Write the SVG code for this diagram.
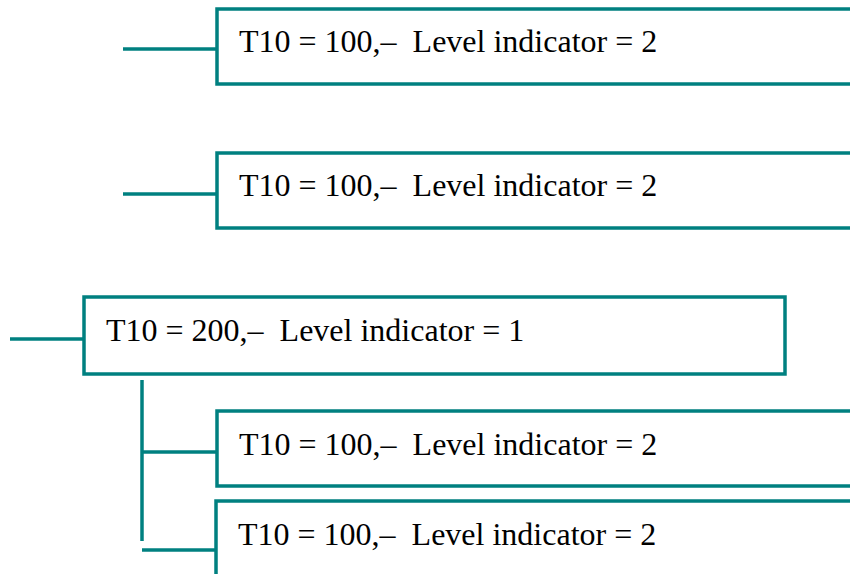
<svg xmlns="http://www.w3.org/2000/svg" width="850" height="574" viewBox="0 0 850 574">
<style>
.box{fill:#fff;stroke:#008080;stroke-width:3.5}
.ln{stroke:#008080;stroke-width:3.5;fill:none}
.t{font-family:"Liberation Serif","Times New Roman",serif;font-size:32px;fill:#000;white-space:pre}
</style>
<rect width="850" height="574" fill="#fff"/>
<g id="connectors">
<line class="ln" x1="123" y1="49" x2="217" y2="49"/>
<line class="ln" x1="123" y1="194" x2="217" y2="194"/>
<line class="ln" x1="10" y1="339" x2="84" y2="339"/>
<line class="ln" x1="142" y1="380" x2="142" y2="541"/>
<line class="ln" x1="142" y1="452" x2="217" y2="452"/>
<line class="ln" x1="142" y1="550" x2="216" y2="550"/>
</g>
<g id="n1"><rect class="box" x="217" y="9" width="650" height="75"/><text class="t" x="239" y="52" xml:space="preserve">T10 = 100,–  Level indicator = 2</text></g>
<g id="n2"><rect class="box" x="217" y="153" width="650" height="75"/><text class="t" x="239" y="196" xml:space="preserve">T10 = 100,–  Level indicator = 2</text></g>
<g id="n3"><rect class="box" x="84" y="297" width="701" height="77"/><text class="t" x="106" y="341" xml:space="preserve">T10 = 200,–  Level indicator = 1</text></g>
<g id="n4"><rect class="box" x="217" y="411" width="650" height="75"/><text class="t" x="239" y="455" xml:space="preserve">T10 = 100,–  Level indicator = 2</text></g>
<g id="n5"><rect class="box" x="216" y="501" width="650" height="100"/><text class="t" x="238" y="545" xml:space="preserve">T10 = 100,–  Level indicator = 2</text></g>
</svg>
